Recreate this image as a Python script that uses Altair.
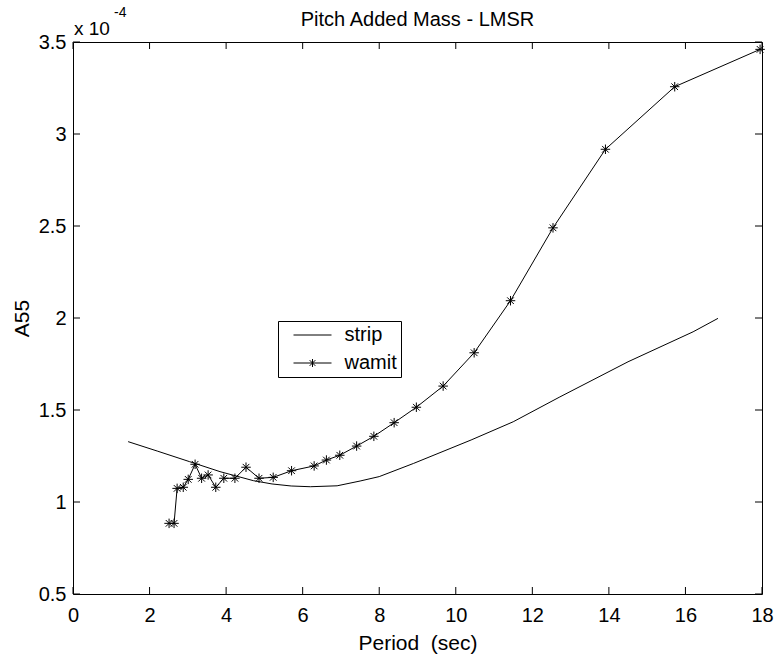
import altair as alt
import pandas as pd

# ---- data (A55 values in units of 1e-4) ----
strip_period = [1.44, 2.2, 3.05, 3.84, 4.71, 5.2, 5.7, 6.2, 6.9, 7.5, 8.0, 8.9,
                10.4, 11.5, 12.7, 14.5, 16.2, 16.85]
strip_a55 = [1.328, 1.277, 1.219, 1.165, 1.116, 1.098, 1.087, 1.083, 1.088, 1.114,
             1.138, 1.21, 1.337, 1.436, 1.569, 1.762, 1.925, 1.998]

wamit_period = [2.51, 2.64, 2.72, 2.88, 3.01, 3.19, 3.36, 3.53, 3.73, 3.94, 4.23,
                4.52, 4.86, 5.23, 5.71, 6.30, 6.62, 6.97, 7.41, 7.86, 8.39, 8.97,
                9.67, 10.48, 11.43, 12.54, 13.91, 15.72, 17.95]
wamit_a55 = [0.884, 0.884, 1.074, 1.08, 1.123, 1.205, 1.129, 1.147, 1.08, 1.129,
             1.129, 1.189, 1.129, 1.134, 1.17, 1.196, 1.228, 1.254, 1.304, 1.357,
             1.431, 1.515, 1.63, 1.811, 2.094, 2.49, 2.917, 3.257, 3.46]

series_names = ["strip", "wamit"]
x_ticks = [0, 2, 4, 6, 8, 10, 12, 14, 16, 18]
y_ticks = [0.5, 1, 1.5, 2, 2.5, 3, 3.5]
title_text = "Pitch Added Mass - LMSR"
x_title = "Period\u00a0 (sec)"
y_title = "A55"
exp_base = "x 10"
exp_power = "-4"

FONT = "Liberation Sans"
W, H = 689, 552

df_strip = pd.DataFrame({"period": strip_period, "a55": strip_a55, "series": "strip"})
df_wamit = pd.DataFrame({"period": wamit_period, "a55": wamit_a55, "series": "wamit"})
df_all = pd.concat([df_strip, df_wamit], ignore_index=True)
df_xt = pd.DataFrame({"v": x_ticks})
df_yt = pd.DataFrame({"v": y_ticks})
df_leg = pd.DataFrame({"series": series_names})

ASTER = "M0,-1L0,1M-1,0L1,0M-0.7,-0.7L0.7,0.7M-0.7,0.7L0.7,-0.7"
LEG_STRIP = "M-2,0L2,0"
LEG_WAMIT = "M-2,0L2,0M0,-0.42L0,0.42M-0.3,-0.3L0.3,0.3M-0.3,0.3L0.3,-0.3"

xscale = alt.Scale(domain=[0, 18], nice=False, zero=False)
yscale = alt.Scale(domain=[0.5, 3.5], nice=False, zero=False)

x_axis = alt.Axis(values=x_ticks, ticks=False, domain=False, grid=False, labelFlush=False,
                  labelFontSize=20, labelFont=FONT, labelColor="black", labelPadding=11,
                  title=x_title, titleFont=FONT, titleFontSize=21, titleFontWeight="normal",
                  titleColor="black", titleX=W / 2, titleY=49, titleBaseline="middle")
y_axis = alt.Axis(values=y_ticks, format="~g", ticks=False, domain=False, grid=False,
                  labelFlush=False,
                  labelFontSize=20, labelFont=FONT, labelColor="black", labelPadding=7,
                  title=y_title, titleFont=FONT, titleFontSize=21, titleFontWeight="normal",
                  titleColor="black", titleX=-51, titleY=H / 2, titleBaseline="middle",
                  titleAlign="center")

legend = alt.Legend(
    title=None, orient="none", legendX=205, legendY=279,
    strokeColor="black", fillColor="white", padding=4,
    labelFont=FONT, labelFontSize=20, labelColor="black",
    labelExpr="datum.label + '\u00a0\u00a0\u00a0'",
    symbolSize=361, symbolStrokeWidth=1, symbolOffset=20.5, labelOffset=22,
    symbolOpacity=1, symbolStrokeColor="black", symbolFillColor="transparent",
    rowPadding=8,
)

lines = alt.Chart(df_all).mark_line(strokeWidth=1, color="black").encode(
    x=alt.X("period:Q", scale=xscale, axis=x_axis),
    y=alt.Y("a55:Q", scale=yscale, axis=y_axis),
    detail="series:N",
)

points = alt.Chart(df_wamit).mark_point(shape=ASTER, size=90, filled=False,
                                        color="black", strokeWidth=1, opacity=1).encode(
    x=alt.X("period:Q", scale=xscale),
    y=alt.Y("a55:Q", scale=yscale),
)

leg_layer = alt.Chart(df_leg).mark_point(filled=False, color="black", opacity=0, size=361).encode(
    shape=alt.Shape("series:N", scale=alt.Scale(domain=series_names, range=[LEG_STRIP, LEG_WAMIT]),
                    legend=legend),
    x=alt.value(0), y=alt.value(0),
)

TL = 7
tick_bottom = alt.Chart(df_xt).mark_rule(color="black").encode(
    x=alt.X("v:Q", scale=xscale), y=alt.value(H), y2=alt.value(H - TL))
tick_top = alt.Chart(df_xt).mark_rule(color="black").encode(
    x=alt.X("v:Q", scale=xscale), y=alt.value(0), y2=alt.value(TL))
tick_left = alt.Chart(df_yt).mark_rule(color="black").encode(
    y=alt.Y("v:Q", scale=yscale), x=alt.value(0), x2=alt.value(TL))
tick_right = alt.Chart(df_yt).mark_rule(color="black").encode(
    y=alt.Y("v:Q", scale=yscale), x=alt.value(W), x2=alt.value(W - TL))

exp1 = alt.Chart(pd.DataFrame({"t": [exp_base]})).mark_text(
    font=FONT, fontSize=19, align="left", baseline="alphabetic", color="black").encode(
    text="t:N", x=alt.value(1), y=alt.value(-7))
exp2 = alt.Chart(pd.DataFrame({"t": [exp_power]})).mark_text(
    font=FONT, fontSize=14, align="left", baseline="alphabetic", color="black").encode(
    text="t:N", x=alt.value(41), y=alt.value(-25))

chart = alt.layer(lines, points, leg_layer, tick_bottom, tick_top, tick_left, tick_right,
                  exp1, exp2).properties(
    width=W, height=H,
    title=alt.TitleParams(title_text, font=FONT, fontSize=20, fontWeight="normal",
                          color="black", anchor="middle", offset=8, dy=32),
    padding={"left": 73, "top": 42, "right": 12, "bottom": 68},
    autosize=alt.AutoSizeParams(type="none"),
    background="white",
).configure_view(stroke="black", strokeWidth=1)

chart.save("out.html", embed_options={"renderer": "svg", "actions": False})
